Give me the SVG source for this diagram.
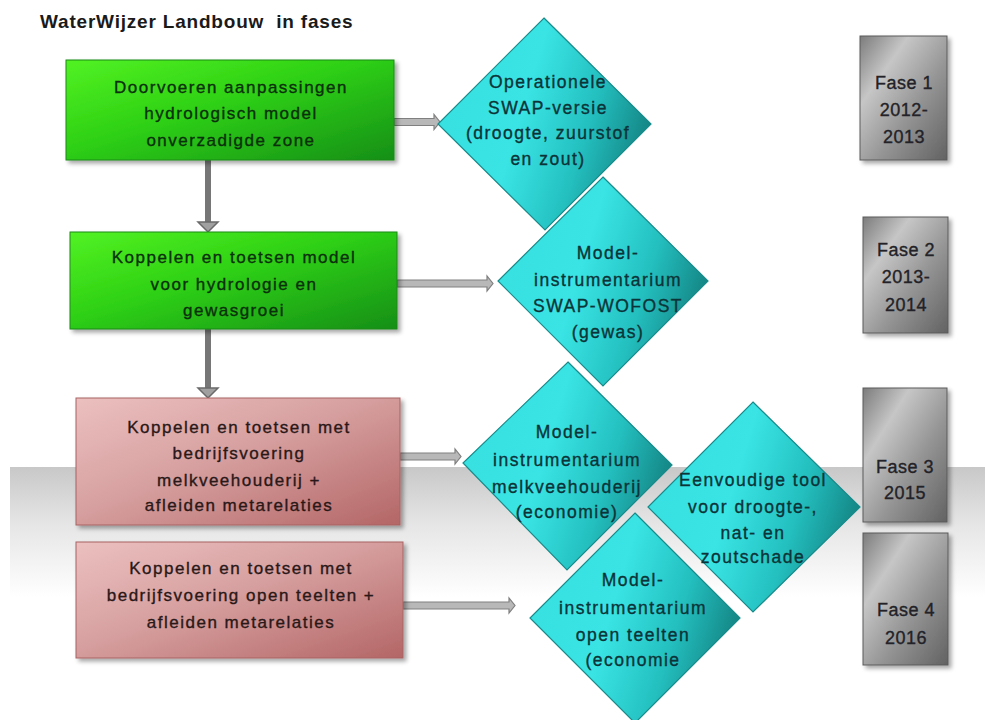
<svg xmlns="http://www.w3.org/2000/svg" width="985" height="720" viewBox="0 0 985 720">
<style>
  text { font-family: "Liberation Sans", Arial, sans-serif; text-anchor: middle; stroke-width: 0.35px; }
  .title { font-size: 19px; font-weight: bold; fill: #1a1a1a; text-anchor: start; letter-spacing: 0.8px; white-space: pre; stroke: none; }
  .gt { font-size: 17px; letter-spacing: 1.5px; fill: #0c300c; stroke: #0c300c; }
  .pt { font-size: 17px; letter-spacing: 1.5px; fill: #2a1818; stroke: #2a1818; }
  .dt { font-size: 17.5px; letter-spacing: 1.5px; fill: #0c3438; stroke: #0c3438; }
  .ft { font-size: 18px; letter-spacing: 0.5px; fill: #222228; stroke: #222228; }
  .green { fill: url(#gGreen); stroke: #1c8a16; stroke-width: 1; filter: url(#shadow); }
  .pink { fill: url(#gPink); stroke: #a86262; stroke-width: 1; filter: url(#shadow); }
  .dia { fill: url(#gCyan); stroke: #188a8a; stroke-width: 1.2; }
  .phase { fill: url(#gGrey); stroke: #5a5a5a; stroke-width: 1; filter: url(#shadow); }
  .harrow { fill: #b8b8b8; stroke: #808080; stroke-width: 1.2; }
  .vshaft { fill: #767676; }
  .vhead { fill: #a0a0a0; stroke: #6a6a6a; stroke-width: 1.5; }
</style>
<defs>
  <filter id="shadow" x="-10%" y="-10%" width="125%" height="130%">
    <feDropShadow dx="3" dy="3" stdDeviation="2" flood-color="#000" flood-opacity="0.35"/>
  </filter>
  <linearGradient id="gGreen" x1="0" y1="0" x2="1" y2="1">
    <stop offset="0" stop-color="#52f224"/>
    <stop offset="0.45" stop-color="#2ed014"/>
    <stop offset="1" stop-color="#168f12"/>
  </linearGradient>
  <linearGradient id="gPink" x1="0" y1="0" x2="1" y2="1">
    <stop offset="0" stop-color="#ecc0c0"/>
    <stop offset="0.45" stop-color="#d7a0a0"/>
    <stop offset="1" stop-color="#b46666"/>
  </linearGradient>
  <linearGradient id="gCyan" x1="0" y1="0.3" x2="1" y2="0.6">
    <stop offset="0" stop-color="#38e0e0"/>
    <stop offset="0.4" stop-color="#3ae4e4"/>
    <stop offset="0.7" stop-color="#24c0c0"/>
    <stop offset="1" stop-color="#12807f"/>
  </linearGradient>
  <linearGradient id="gGrey" x1="0" y1="0" x2="1" y2="1">
    <stop offset="0" stop-color="#7c7c7c"/>
    <stop offset="0.28" stop-color="#c6c6c6"/>
    <stop offset="0.6" stop-color="#959595"/>
    <stop offset="1" stop-color="#626262"/>
  </linearGradient>
  <linearGradient id="gBand" x1="0" y1="0" x2="0" y2="1">
    <stop offset="0" stop-color="#c8c8c8"/>
    <stop offset="0.45" stop-color="#e6e6e6"/>
    <stop offset="1" stop-color="#ffffff"/>
  </linearGradient>
</defs>

<rect x="0" y="0" width="985" height="720" fill="#ffffff"/>
<rect x="10" y="467" width="975" height="130" fill="url(#gBand)"/>

<text class="title" x="40" y="28">WaterWijzer Landbouw  in fases</text>

<g id="connectors">
  <rect class="vshaft" x="205" y="158" width="6" height="66"/>
  <polygon class="vhead" points="198,222 218,222 208,232"/>
  <rect class="vshaft" x="205" y="328" width="6" height="62"/>
  <polygon class="vhead" points="198,388 218,388 208,398"/>
  <polygon class="harrow" points="394,118.5 434,118.5 434,114.5 440,122 434,129.5 434,125.5 394,125.5"/>
  <polygon class="harrow" points="397,280 487,280 487,276 493,283.5 487,291 487,287 397,287"/>
  <polygon class="harrow" points="400,453 455,453 455,449 461,456.5 455,464 455,460 400,460"/>
  <polygon class="harrow" points="403,602 509,602 509,598 515,605.5 509,613 509,609 403,609"/>
</g>

<g id="box1">
  <rect class="green" x="66" y="60" width="328" height="100"/>
  <text class="gt" x="231" y="93">Doorvoeren aanpassingen</text>
  <text class="gt" x="231" y="119">hydrologisch model</text>
  <text class="gt" x="231" y="146">onverzadigde zone</text>
</g>
<g id="box2">
  <rect class="green" x="70" y="232" width="327" height="97"/>
  <text class="gt" x="234" y="263">Koppelen en toetsen model</text>
  <text class="gt" x="234" y="290">voor hydrologie en</text>
  <text class="gt" x="234" y="316">gewasgroei</text>
</g>
<g id="box3">
  <rect class="pink" x="76" y="398" width="324" height="127"/>
  <text class="pt" x="239" y="433">Koppelen en toetsen met</text>
  <text class="pt" x="239" y="459">bedrijfsvoering</text>
  <text class="pt" x="239" y="486">melkveehouderij +</text>
  <text class="pt" x="239" y="511">afleiden metarelaties</text>
</g>
<g id="box4">
  <rect class="pink" x="76" y="542" width="327" height="116"/>
  <text class="pt" x="241" y="574">Koppelen en toetsen met</text>
  <text class="pt" x="241" y="601">bedrijfsvoering open teelten +</text>
  <text class="pt" x="241" y="628">afleiden metarelaties</text>
</g>

<g id="diamond1">
  <polygon class="dia" points="544,18 651,124 545,230 438,124"/>
  <text class="dt" x="548" y="88">Operationele</text>
  <text class="dt" x="548" y="114">SWAP-versie</text>
  <text class="dt" x="548" y="139">(droogte, zuurstof</text>
  <text class="dt" x="548" y="165">en zout)</text>
</g>
<g id="diamond2">
  <polygon class="dia" points="603,177 708,281 603,386 498,281"/>
  <text class="dt" x="608" y="259">Model-</text>
  <text class="dt" x="608" y="286">instrumentarium</text>
  <text class="dt" x="608" y="312">SWAP-WOFOST</text>
  <text class="dt" x="608" y="338">(gewas)</text>
</g>
<g id="diamond3">
  <polygon class="dia" points="568,362 672,465 567,570 463,463"/>
  <text class="dt" x="567" y="438">Model-</text>
  <text class="dt" x="567" y="466">instrumentarium</text>
  <text class="dt" x="567" y="493">melkveehouderij</text>
  <text class="dt" x="567" y="518">(economie)</text>
</g>
<g id="diamond5">
  <polygon class="dia" points="753,402 860,507 753,612 648,507"/>
  <text class="dt" x="753" y="486">Eenvoudige tool</text>
  <text class="dt" x="753" y="513">voor droogte-,</text>
  <text class="dt" x="753" y="539">nat- en</text>
  <text class="dt" x="753" y="563">zoutschade</text>
</g>
<g id="diamond4">
  <polygon class="dia" points="635,513 740,618 635,723 530,618"/>
  <text class="dt" x="633" y="586">Model-</text>
  <text class="dt" x="633" y="614">instrumentarium</text>
  <text class="dt" x="633" y="641">open teelten</text>
  <text class="dt" x="633" y="666">(economie</text>
</g>

<g id="fase1">
  <rect class="phase" x="860" y="36" width="87" height="124"/>
  <text class="ft" x="904" y="89">Fase 1</text>
  <text class="ft" x="904" y="116">2012-</text>
  <text class="ft" x="904" y="143">2013</text>
</g>
<g id="fase2">
  <rect class="phase" x="863" y="217" width="85" height="116"/>
  <text class="ft" x="906" y="256">Fase 2</text>
  <text class="ft" x="906" y="283">2013-</text>
  <text class="ft" x="906" y="311">2014</text>
</g>
<g id="fase3">
  <rect class="phase" x="863" y="388" width="84" height="134"/>
  <text class="ft" x="905" y="473">Fase 3</text>
  <text class="ft" x="905" y="499">2015</text>
</g>
<g id="fase4">
  <rect class="phase" x="863" y="533" width="85" height="132"/>
  <text class="ft" x="906" y="616">Fase 4</text>
  <text class="ft" x="906" y="644">2016</text>
</g>
</svg>
